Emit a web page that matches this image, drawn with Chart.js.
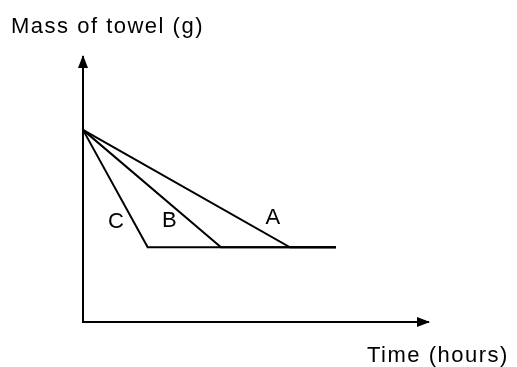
<!DOCTYPE html>
<html>
<head>
<meta charset="utf-8">
<script src="https://cdn.jsdelivr.net/npm/chart.js@4/dist/chart.umd.min.js"></script>
<style>
  html, body { margin: 0; padding: 0; background: #fff; }
  #wrap { width: 517px; height: 367px; }
</style>
</head>
<body>
<div id="wrap"><canvas id="towelChart" width="517" height="367"></canvas></div>
<script>
// drying curves, arbitrary units (sketch has no tick values)
let timeA = [0, 7.2, 8.8];
let massA = [7.25, 2.82, 2.82];
let timeB = [0, 4.8, 8.8];
let massB = [7.25, 2.82, 2.82];
let timeC = [0, 2.25, 8.8];
let massC = [7.25, 2.82, 2.82];

let seriesNames = ['A', 'B', 'C'];
let xMax = 12;
let yMax = 10;

function toPoints(xs, ys) {
    return xs.map((x, i) => ({ x: x, y: ys[i] }));
}

// label anchor in data units (baseline of the letter next to its line)
const labelAt = {
    A: { x: 6.6, y: 3.7 },
    B: { x: 3.0, y: 3.58 },
    C: { x: 1.15, y: 3.55 }
};

const FONT = '22px "Liberation Sans", Arial, sans-serif';

// arrows on the axes + axis titles + line labels
Chart.register({
    id: 'sketchExtras',
    afterDraw: (chart) => {
        const ctx = chart.ctx;
        const area = chart.chartArea;
        const xs = chart.scales.x;
        const ys = chart.scales.y;
        ctx.save();
        ctx.fillStyle = '#000';

        // y arrow
        ctx.beginPath();
        ctx.moveTo(area.left, area.top - 2);
        ctx.lineTo(area.left - 5, area.top + 11);
        ctx.lineTo(area.left + 5, area.top + 11);
        ctx.closePath();
        ctx.fill();

        // x arrow
        ctx.beginPath();
        ctx.moveTo(area.right + 2, area.bottom);
        ctx.lineTo(area.right - 11, area.bottom - 5);
        ctx.lineTo(area.right - 11, area.bottom + 5);
        ctx.closePath();
        ctx.fill();

        ctx.font = FONT;
        ctx.letterSpacing = '1.5px';
        ctx.textBaseline = 'alphabetic';
        ctx.textAlign = 'left';
        ctx.fillText('Mass of towel (g)', 11, 33);
        ctx.fillText('Time (hours)', 367, 362);

        ctx.letterSpacing = '0px';
        ctx.textAlign = 'center';
        seriesNames.forEach(n => {
            const p = labelAt[n];
            ctx.fillText(n, xs.getPixelForValue(p.x), ys.getPixelForValue(p.y));
        });
        ctx.restore();
    }
});

const lineStyle = {
    borderColor: '#000',
    borderWidth: 2,
    pointRadius: 0,
    tension: 0,
    fill: false,
    clip: false
};

const chart = new Chart(document.getElementById('towelChart').getContext('2d'), {
    type: 'line',
    data: {
        datasets: [
            { label: 'A', data: toPoints(timeA, massA), ...lineStyle },
            { label: 'B', data: toPoints(timeB, massB), ...lineStyle },
            { label: 'C', data: toPoints(timeC, massC), ...lineStyle }
        ]
    },
    options: {
        responsive: false,
        animation: false,
        layout: { padding: { left: 83, top: 57, right: 89, bottom: 45 } },
        plugins: {
            legend: { display: false },
            tooltip: { enabled: false }
        },
        scales: {
            x: {
                type: 'linear',
                min: 0,
                max: xMax,
                ticks: { display: false },
                grid: { display: true, drawOnChartArea: false, drawTicks: false },
                border: { display: true, color: '#000', width: 2 }
            },
            y: {
                type: 'linear',
                min: 0,
                max: yMax,
                ticks: { display: false },
                grid: { display: true, drawOnChartArea: false, drawTicks: false },
                border: { display: true, color: '#000', width: 2 }
            }
        }
    }
});
</script>
</body>
</html>
